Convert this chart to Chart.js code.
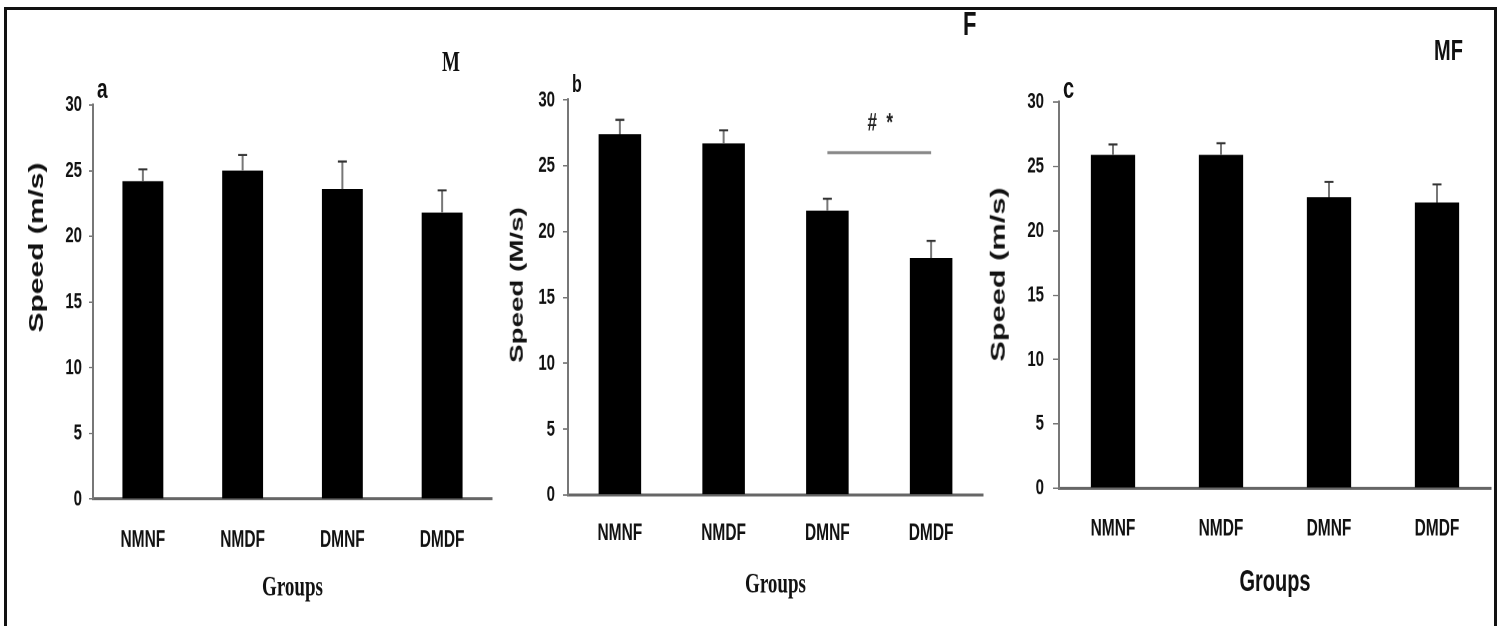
<!DOCTYPE html>
<html>
<head>
<meta charset="utf-8">
<script src="https://cdn.jsdelivr.net/npm/chart.js@4"></script>
<style>
html,body{margin:0;padding:0;background:#fff;width:1502px;height:626px;overflow:hidden;}
#frame{position:absolute;left:4px;top:7px;width:1493px;height:660px;box-sizing:border-box;border:3px solid #111;border-bottom:none;}
#stage{position:absolute;left:0;top:0;width:1502px;height:417.333px;transform:scaleY(1.5);transform-origin:0 0;}
.panel{position:absolute;top:0;height:417px;}
.lbl{position:absolute;line-height:1;white-space:nowrap;color:#111;font-weight:bold;}
.sans{font-family:'Liberation Sans',Arial,sans-serif;}
.serif{font-family:'Liberation Serif','Times New Roman',serif;}
.ytitle{position:absolute;line-height:1;white-space:nowrap;font-weight:bold;font-family:'Liberation Sans',Arial,sans-serif;color:#111;transform:translate(-50%,-50%) rotate(-90deg);}
</style>
</head>
<body>
<div id="frame"></div>
<div id="stage">
  <div class="panel" style="left:0px;width:500px;"><canvas id="chartA"></canvas></div>
  <div class="panel" style="left:495px;width:500px;"><canvas id="chartB"></canvas></div>
  <div class="panel" style="left:995px;width:507px;"><canvas id="chartC"></canvas></div>

  <div class="lbl sans" style="left:97px;top:48.9px;font-size:19px;">a</div>
  <div class="lbl serif" style="left:442px;top:31.1px;font-size:19px;">M</div>
  <div class="lbl sans" style="left:572px;top:47.6px;font-size:16px;">b</div>
  <div class="lbl sans" style="left:963px;top:4.7px;font-size:22px;">F</div>
  <div class="lbl sans" style="left:1063px;top:48.4px;font-size:20px;">c</div>
  <div class="lbl sans" style="left:1434px;top:23.1px;font-size:20px;">MF</div>

  <div class="ytitle" style="left:36px;top:165.3px;font-size:20px;">Speed (m/s)</div>
  <div class="ytitle" style="left:517px;top:190px;font-size:18.5px;">Speed (M/s)</div>
  <div class="ytitle" style="left:998px;top:183.3px;font-size:20.5px;">Speed (m/s)</div>
</div>
<script>
// ---- data ----
const categories = ['NMNF', 'NMDF', 'DMNF', 'DMDF'];
const yTickValues = [0, 5, 10, 15, 20, 25, 30];
const speedA = [24.2, 25.0, 23.6, 21.8];
const semA   = [0.9, 1.2, 2.1, 1.7];
const speedB = [27.4, 26.7, 21.6, 18.0];
const semB   = [1.1, 1.0, 0.9, 1.3];
const speedC = [25.9, 25.9, 22.6, 22.2];
const semC   = [0.8, 0.9, 1.2, 1.4];
const sigPairB = [2, 3];
const sigLevelB = 26.0;
const sigLabelB = '#  *';
const xTitle = 'Groups';

function makeErrorPlugin(errors, sig) {
  return {
    id: 'errorBars',
    afterDatasetsDraw(chart) {
      const ctx = chart.ctx;
      const x = chart.scales.x, y = chart.scales.y;
      const meta = chart.getDatasetMeta(0);
      const vals = chart.data.datasets[0].data;
      ctx.save();
      meta.data.forEach((bar, i) => {
        const top = y.getPixelForValue(vals[i] + errors[i]);
        ctx.strokeStyle = '#777';
        ctx.lineWidth = 2;
        ctx.beginPath(); ctx.moveTo(bar.x, bar.y); ctx.lineTo(bar.x, top); ctx.stroke();
        ctx.strokeStyle = '#333';
        ctx.lineWidth = 1.4;
        ctx.beginPath(); ctx.moveTo(bar.x - 4.5, top); ctx.lineTo(bar.x + 4.5, top); ctx.stroke();
      });
      if (sig) {
        const x1 = x.getPixelForValue(sig.pair[0]);
        const x2 = x.getPixelForValue(sig.pair[1]);
        const ly = y.getPixelForValue(sig.level);
        ctx.strokeStyle = '#888';
        ctx.lineWidth = 2;
        ctx.beginPath(); ctx.moveTo(x1, ly); ctx.lineTo(x2, ly); ctx.stroke();
        ctx.fillStyle = '#222';
        ctx.font = 'bold 17px "Liberation Sans", Arial, sans-serif';
        ctx.textAlign = 'center';
        ctx.textBaseline = 'alphabetic';
        ctx.fillText(sig.label, (x1 + x2) / 2 + 1, ly - 15);
      }
      ctx.restore();
    }
  };
}

function makePanel(id, values, errors, o) {
  return new Chart(document.getElementById(id), {
    type: 'bar',
    data: {
      labels: categories,
      datasets: [{
        data: values,
        backgroundColor: '#000',
        borderColor: '#222',
        borderWidth: 0,
        barPercentage: 0.41,
        categoryPercentage: 1.0
      }]
    },
    options: {
      responsive: true,
      maintainAspectRatio: false,
      animation: false,
      devicePixelRatio: 2,
      layout: { padding: { left: 0, right: o.rightPad, top: o.topPad, bottom: 0 } },
      plugins: { legend: { display: false }, tooltip: { enabled: false }, title: { display: false } },
      scales: {
        x: {
          grid: { display: false },
          border: { display: true, color: '#666', width: 2 },
          ticks: {
            color: '#111',
            padding: o.labelPad,
            font: { family: '"Liberation Sans", Arial, sans-serif', size: 15.5, weight: 'bold' }
          },
          title: {
            display: true,
            text: xTitle,
            color: '#111',
            padding: { top: 0, bottom: o.titlePad },
            font: o.titleFont
          },
          afterFit: s => { s.height = o.xHeight; }
        },
        y: {
          min: 0, max: 30,
          afterBuildTicks: s => { s.ticks = yTickValues.map(v => ({ value: v })); },
          grid: { drawOnChartArea: false, drawTicks: true, tickLength: o.tickLen, color: '#777', lineWidth: 1 },
          border: { display: true, color: '#777', width: 2 },
          ticks: {
            color: '#111',
            padding: o.tickPad,
            font: { family: '"Liberation Sans", Arial, sans-serif', size: 15, weight: 'bold' }
          },
          afterFit: s => { s.width = o.axisWidth; }
        }
      }
    },
    plugins: [makeErrorPlugin(errors, o.sig)]
  });
}

makePanel('chartA', speedA, semA, {
  axisWidth: 93, rightPad: 8, topPad: 70, xHeight: 84.3,
  tickLen: 4, tickPad: 7, labelPad: 10, titlePad: 13.6,
  titleFont: { family: '"Liberation Serif", "Times New Roman", serif', size: 19, weight: 'bold' }
});
makePanel('chartB', speedB, semB, {
  axisWidth: 73, rightPad: 12, topPad: 66.7, xHeight: 87,
  tickLen: 5, tickPad: 8, labelPad: 8.6, titlePad: 15.6,
  titleFont: { family: '"Liberation Serif", "Times New Roman", serif', size: 19, weight: 'bold' },
  sig: { pair: sigPairB, level: sigLevelB, label: sigLabelB }
});
makePanel('chartC', speedC, semC, {
  axisWidth: 64, rightPad: 11, topPad: 68, xHeight: 91.5,
  tickLen: 6, tickPad: 9, labelPad: 9.7, titlePad: 16.3,
  titleFont: { family: '"Liberation Sans", Arial, sans-serif', size: 20, weight: 'bold' }
});
</script>
</body>
</html>
